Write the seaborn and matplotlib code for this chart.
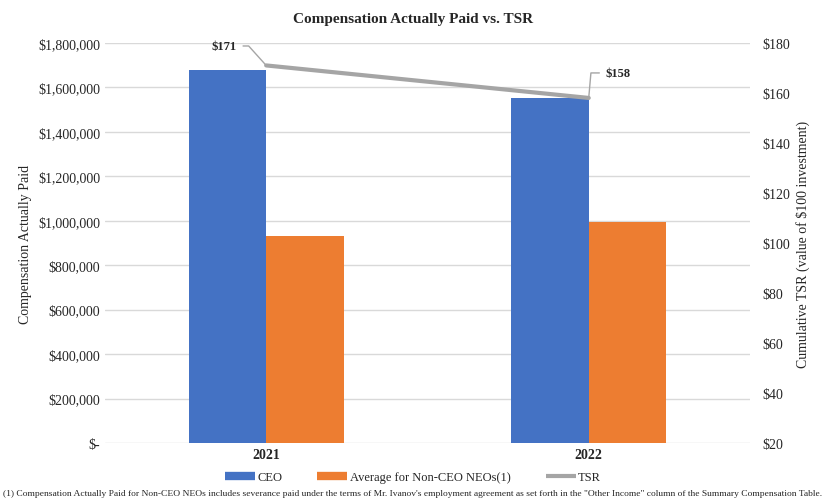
import numpy as np
import pandas as pd
import seaborn as sns
import matplotlib.pyplot as plt
from matplotlib.lines import Line2D
from matplotlib.ticker import FuncFormatter

# Chart data
years = ['2021', '2022']
ceo_cap = [1680000, 1552000]
neo_cap = [932000, 995000]
tsr = [171, 158]

series_names = ['CEO', 'Average for Non-CEO NEOs(1)']
colors = ['#4472C4', '#ED7D31']
tsr_color = '#A5A5A5'

df = pd.DataFrame({
    'year': years * 2,
    'value': ceo_cap + neo_cap,
    'series': [series_names[0]] * len(years) + [series_names[1]] * len(years),
})

sns.set_style('white')
plt.rcParams['font.family'] = ['Liberation Serif', 'DejaVu Serif']

fig = plt.figure(figsize=(8.26, 5.02), dpi=100)
ax = fig.add_axes([0.127, 0.1155, 0.781, 0.797])

sns.barplot(data=df, x='year', y='value', hue='series', palette=colors,
            width=0.48, saturation=1, linewidth=0, ax=ax, legend=False)

ax.set_ylim(0, 1800000)
ax.set_yticks(np.arange(0, 1800001, 200000))
ax.yaxis.set_major_formatter(FuncFormatter(lambda v, p: '$-' if v == 0 else f'${v:,.0f}'))
ax.grid(axis='y', color='#D9D9D9', linewidth=1)
ax.set_axisbelow(True)
ax.set_xlabel('')
ax.set_ylabel('Compensation Actually Paid', fontsize=10)
ax.tick_params(axis='both', length=0, labelsize=10)
for lbl in ax.get_xticklabels():
    lbl.set_fontweight('bold')
for s in ax.spines.values():
    s.set_visible(False)

# TSR line on secondary axis
ax2 = ax.twinx()
sns.lineplot(x=np.arange(len(years)), y=tsr, color=tsr_color, linewidth=3, ax=ax2)
ax2.set_ylim(20, 180)
ax2.set_yticks(np.arange(20, 181, 20))
ax2.yaxis.set_major_formatter(FuncFormatter(lambda v, p: f'${v:.0f}'))
ax2.set_ylabel('Cumulative TSR (value of $100 investment)', fontsize=10, labelpad=4)
ax2.tick_params(axis='y', length=0, labelsize=10, pad=9)
for s in ax2.spines.values():
    s.set_visible(False)
ax.set_xlim(-0.5, 1.5)

ax2.annotate(f'${tsr[0]}', xy=(0, tsr[0]), xytext=(-21, 14), textcoords='offset points',
             ha='right', va='center', fontsize=9, fontweight='bold',
             arrowprops=dict(arrowstyle='-', color=tsr_color, lw=1, shrinkA=2, shrinkB=0,
                             connectionstyle='angle,angleA=0,angleB=132,rad=0'))
ax2.annotate(f'${tsr[1]}', xy=(1, tsr[1]), xytext=(12, 18), textcoords='offset points',
             ha='left', va='center', fontsize=9, fontweight='bold',
             arrowprops=dict(arrowstyle='-', color=tsr_color, lw=1, shrinkA=2, shrinkB=0,
                             connectionstyle='angle,angleA=0,angleB=85,rad=0'))

fig.suptitle('Compensation Actually Paid vs. TSR', fontsize=11, fontweight='bold', y=0.975)

handles = [Line2D([0], [0], color=colors[0], lw=6, solid_capstyle='butt'),
           Line2D([0], [0], color=colors[1], lw=6, solid_capstyle='butt'),
           Line2D([0], [0], color=tsr_color, lw=3, solid_capstyle='butt')]
fig.legend(handles, series_names + ['TSR'], loc='center', bbox_to_anchor=(0.5, 0.048),
           ncol=3, frameon=False, fontsize=9, handlelength=2.4, handletextpad=0.2,
           columnspacing=2.8)

fig.text(0.5, 0.016, '(1) Compensation Actually Paid for Non-CEO NEOs includes severance paid under the terms of '
         "Mr. Ivanov's employment agreement as set forth in the \"Other Income\" column of the Summary Compensation Table.",
         ha='center', va='center', fontsize=6.8)

fig.savefig('out.png', dpi=100)
